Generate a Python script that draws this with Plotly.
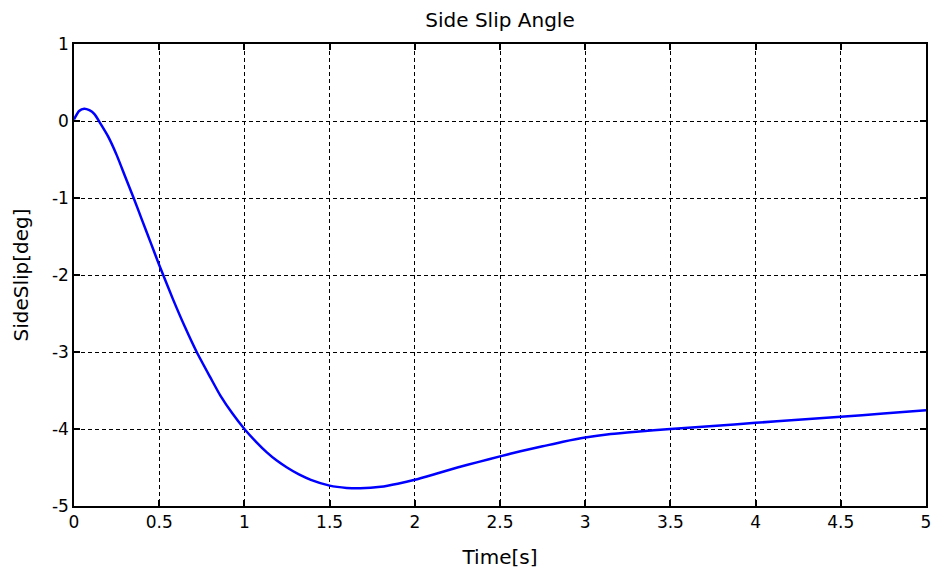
import plotly.graph_objects as go

# Side slip response sampled from the simulation run
time_s = [0.0, 0.03, 0.06, 0.09, 0.12, 0.16, 0.20, 0.25, 0.30, 0.35, 0.40, 0.45,
          0.50, 0.58, 0.65, 0.72, 0.80, 0.86, 0.93, 1.00, 1.07, 1.13, 1.19, 1.25,
          1.32, 1.39, 1.50, 1.60, 1.68, 1.80, 1.90, 2.00, 2.12, 2.25, 2.37, 2.50,
          2.62, 2.75, 2.87, 3.00, 3.15, 3.30, 3.50, 3.75, 4.00, 4.25, 4.50, 4.75, 5.00]
side_slip_deg = [0.02, 0.13, 0.16, 0.14, 0.09, -0.05, -0.20, -0.44, -0.72, -1.00, -1.29, -1.58,
                 -1.87, -2.31, -2.67, -3.00, -3.33, -3.57, -3.80, -4.00, -4.17, -4.30, -4.41, -4.50,
                 -4.59, -4.66, -4.735, -4.765, -4.77, -4.75, -4.71, -4.66, -4.585, -4.50, -4.43, -4.355,
                 -4.29, -4.225, -4.165, -4.11, -4.065, -4.035, -4.00, -3.96, -3.92, -3.88, -3.84, -3.80, -3.755]

x_ticks = [0, 0.5, 1, 1.5, 2, 2.5, 3, 3.5, 4, 4.5, 5]
x_tick_text = ["0", "0.5", "1", "1.5", "2", "2.5", "3", "3.5", "4", "4.5", "5"]
y_ticks = [1, 0, -1, -2, -3, -4, -5]
y_tick_text = ["1", "0", "-1", "-2", "-3", "-4", "-5"]

FONT = "DejaVu Sans, Verdana, sans-serif"

fig = go.Figure()
fig.add_trace(go.Scatter(
    x=time_s, y=side_slip_deg, mode="lines",
    line=dict(color="#0000ff", width=2.5, shape="spline", smoothing=0.6),
    showlegend=False,
))

axis_common = dict(
    showline=True, linecolor="black", linewidth=1.5, mirror="ticks",
    ticks="inside", ticklen=6, tickwidth=1.5, tickcolor="black",
    showgrid=True, gridcolor="black", gridwidth=1, griddash="4px,3px",
    zeroline=False, automargin=False,
    tickfont=dict(family=FONT, size=17, color="black"),
)

fig.update_xaxes(
    range=[0, 5], tickmode="array", tickvals=x_ticks, ticktext=x_tick_text,
    title=dict(text="Time[s]", font=dict(family=FONT, size=20, color="black"), standoff=19),
    **axis_common,
)
fig.update_yaxes(
    range=[-5, 1], tickmode="array", tickvals=y_ticks, ticktext=y_tick_text,
    title=dict(text="SideSlip[deg]", font=dict(family=FONT, size=20, color="black"), standoff=18),
    **axis_common,
)

fig.update_layout(
    width=936, height=571,
    margin=dict(l=74, r=10, t=44, b=65),
    paper_bgcolor="white", plot_bgcolor="white",
    title=dict(text="Side Slip Angle", x=0.5, xref="paper", y=1 - 19.5 / 571,
               yref="container", xanchor="center", yanchor="middle",
               font=dict(family=FONT, size=20, color="black")),
)

fig.write_html("out.html")
